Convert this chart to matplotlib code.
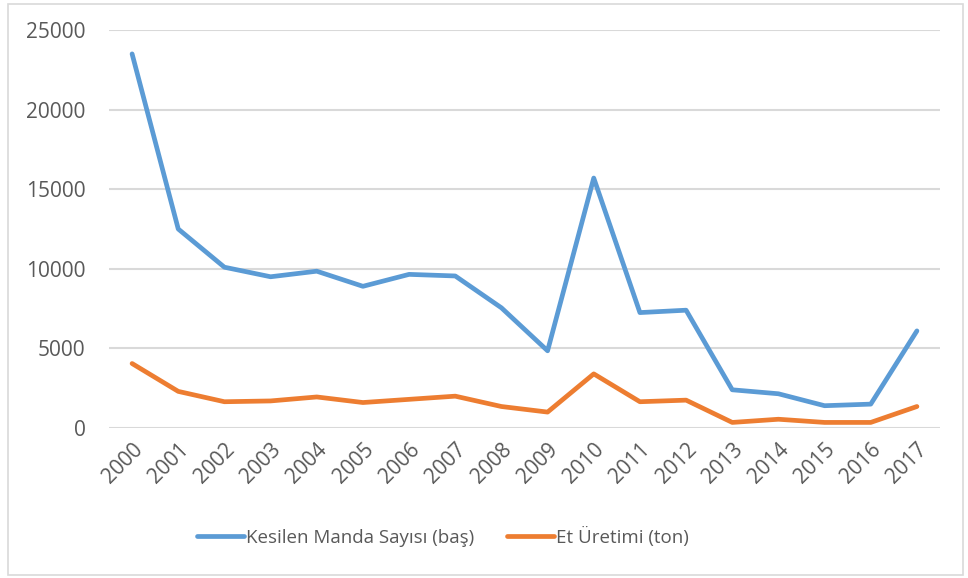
import matplotlib.pyplot as plt
from matplotlib.patches import Rectangle

years = ["2000", "2001", "2002", "2003", "2004", "2005", "2006", "2007", "2008",
         "2009", "2010", "2011", "2012", "2013", "2014", "2015", "2016", "2017"]
manda = [23500, 12500, 10100, 9500, 9850, 8900, 9650, 9550, 7550,
         4850, 15700, 7250, 7400, 2400, 2150, 1400, 1500, 6100]
et = [4050, 2300, 1650, 1700, 1950, 1600, 1800, 2000, 1350,
      1000, 3400, 1650, 1750, 350, 550, 350, 350, 1350]

plt.rcParams['font.family'] = ['Open Sans', 'DejaVu Sans']
txt = '#595959'

W, H = 968, 578
fig = plt.figure(figsize=(W / 100, H / 100), dpi=100)
ax = fig.add_axes([109 / W, 1 - 428 / H, (940 - 109) / W, (428 - 30) / H])

x = range(len(years))
ax.plot(x, manda, color='#5b9bd5', lw=3.4, solid_joinstyle='round',
        solid_capstyle='round', label='Kesilen Manda Sayısı (baş)')
ax.plot(x, et, color='#ed7d31', lw=3.4, solid_joinstyle='round',
        solid_capstyle='round', label='Et Üretimi (ton)')

ax.set_xlim(-0.5, len(years) - 0.5)
ax.set_ylim(0, 25000)
ax.set_yticks(range(0, 25001, 5000))
ax.set_xticks(list(x))
ax.set_xticklabels(years, rotation=45, ha='right', rotation_mode='anchor')
ax.tick_params(axis='both', length=0, labelsize=15, colors=txt)
ax.tick_params(axis='y', pad=17)
ax.tick_params(axis='x', pad=8)
ax.grid(axis='y', color='#d9d9d9', lw=1.5)
ax.set_axisbelow(True)
for s in ax.spines.values():
    s.set_visible(False)

leg = fig.legend(loc='center', bbox_to_anchor=(443 / W, 1 - 537 / H), ncol=2,
                 frameon=False, fontsize=13.5, handlelength=2.5,
                 handletextpad=0.15, columnspacing=1.7)
for t in leg.get_texts():
    t.set_color(txt)
for h in leg.get_lines():
    h.set_linewidth(3.4)

fig.patches.append(Rectangle((8 / W, 3 / H), (963 - 8) / W, (577 - 6) / H,
                             transform=fig.transFigure, fill=False,
                             edgecolor='#d9d9d9', lw=1.2))

fig.savefig('out.png', dpi=100)
